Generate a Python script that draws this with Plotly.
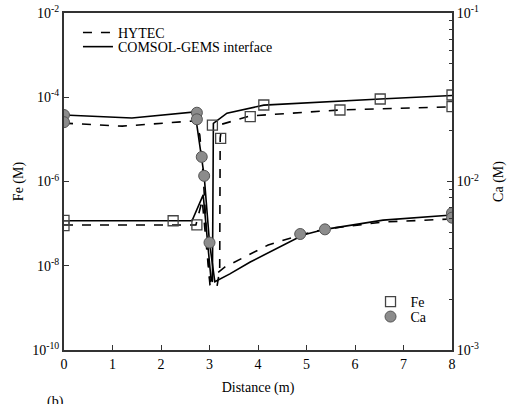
import plotly.graph_objects as go

# ---- Fe concentration (M), left axis ----
fe_comsol_x = [0, 2.64, 2.87, 3.03, 3.06, 3.08, 3.36, 4.12, 6.52, 8.0]
fe_comsol_y = [1.17e-7, 1.17e-7, 4.8e-7, 5.0e-9, 4.1e-9, 2.4e-5, 4.2e-5, 6.5e-5, 9.1e-5, 1.1e-4]

fe_hytec_x = [0, 2.72, 2.85, 3.01, 3.15, 3.21, 3.22, 3.26, 3.84, 5.69, 8.0]
fe_hytec_y = [9.3e-8, 9.3e-8, 3.6e-7, 3.5e-9, 3.0e-9, 7.9e-9, 1.08e-5, 2.3e-5, 3.6e-5, 5.0e-5, 5.9e-5]

# ---- Ca concentration (M), right axis ----
ca_comsol_x = [0, 1.40, 2.70, 2.84, 2.89, 3.00, 3.11, 3.42, 3.84, 4.93, 5.38, 6.58, 8.0]
ca_comsol_y = [0.0248, 0.0238, 0.0259, 0.0140, 0.0108, 0.00434, 0.00254, 0.00283,
               0.00333, 0.00481, 0.0052, 0.0059, 0.00633]

ca_hytec_x = [0, 1.20, 2.70, 2.80, 2.87, 2.95, 3.01, 3.11, 3.32, 4.21, 4.87, 5.38, 6.58, 8.0]
ca_hytec_y = [0.0222, 0.0213, 0.0229, 0.0189, 0.01094, 0.0042, 0.00254, 0.00279,
              0.00311, 0.0042, 0.00481, 0.00522, 0.00575, 0.00599]

# ---- measured points ----
fe_pts_x = [0, 0, 2.25, 2.74, 3.06, 3.23, 3.84, 4.12, 5.69, 6.52, 8.0, 8.0]
fe_pts_y = [1.19e-7, 9.0e-8, 1.17e-7, 9.3e-8, 2.19e-5, 1.06e-5, 3.47e-5, 6.55e-5,
            4.98e-5, 9.1e-5, 1.13e-4, 5.97e-5]

ca_pts_x = [0, 0, 2.74, 2.74, 2.84, 2.89, 3.00, 4.87, 5.38, 8.0, 8.0]
ca_pts_y = [0.0248, 0.0225, 0.0256, 0.0234, 0.0140, 0.0108, 0.00434, 0.00488,
            0.0052, 0.0065, 0.0061]

# ---- ticks ----
x_ticks = [0, 1, 2, 3, 4, 5, 6, 7, 8]
fe_ticks = [1e-10, 1e-8, 1e-6, 1e-4, 1e-2]
fe_tick_text = ["10<sup>-10</sup>", "10<sup>-8</sup>", "10<sup>-6</sup>",
                "10<sup>-4</sup>", "10<sup>-2</sup>"]
ca_ticks = [1e-3, 1e-2, 1e-1]
ca_tick_text = ["10<sup>-3</sup>", "10<sup>-2</sup>", "10<sup>-1</sup>"]
ca_minor = [m * d for d in (1e-3, 1e-2) for m in range(2, 10)]

FONT = "Liberation Serif"
AX = "#333333"

fig = go.Figure()

fig.add_trace(go.Scatter(x=fe_hytec_x, y=fe_hytec_y, mode="lines", name="HYTEC",
                         line=dict(color="black", width=1.6, dash="dash"),
                         legend="legend"))
fig.add_trace(go.Scatter(x=fe_comsol_x, y=fe_comsol_y, mode="lines",
                         name="COMSOL-GEMS interface",
                         line=dict(color="black", width=1.6),
                         legend="legend3"))
fig.add_trace(go.Scatter(x=ca_hytec_x, y=ca_hytec_y, mode="lines", yaxis="y2",
                         line=dict(color="black", width=1.6, dash="dash"),
                         showlegend=False))
fig.add_trace(go.Scatter(x=ca_comsol_x, y=ca_comsol_y, mode="lines", yaxis="y2",
                         line=dict(color="black", width=1.6), showlegend=False))

fig.add_trace(go.Scatter(x=fe_pts_x, y=fe_pts_y, mode="markers", name="Fe",
                         marker=dict(symbol="square-open", size=10, color="#444444",
                                     line=dict(width=1.3)),
                         legend="legend2"))
fig.add_trace(go.Scatter(x=ca_pts_x, y=ca_pts_y, mode="markers", name="Ca", yaxis="y2",
                         marker=dict(symbol="circle", size=11, color="#8c8c8c",
                                     line=dict(color="#555555", width=1)),
                         legend="legend4"))

fig.add_annotation(text="(b)", x=-0.023, y=-0.124, xref="paper", yref="paper",
                   xanchor="center", yanchor="top", showarrow=False,
                   font=dict(family=FONT, size=14, color="black"))

legend_style = dict(xanchor="left", yanchor="middle", bgcolor="rgba(0,0,0,0)",
                    font=dict(family=FONT, size=14, color="black"), itemwidth=30)

fig.update_layout(
    width=512, height=404,
    margin=dict(l=64, r=60, t=13, b=54, autoexpand=False),
    paper_bgcolor="white", plot_bgcolor="white",
    font=dict(family=FONT, size=13, color="black"),
    xaxis=dict(range=[0, 8], tickvals=x_ticks, ticks="inside", ticklen=5,
               tickcolor=AX, showline=True, linecolor=AX, linewidth=2,
               mirror=True, showgrid=False, zeroline=False, automargin=False,
               tickfont=dict(family=FONT, size=14),
               title=dict(text="Distance (m)", standoff=11,
                          font=dict(family=FONT, size=14))),
    yaxis=dict(type="log", range=[-10, -2], tickvals=fe_ticks, ticktext=fe_tick_text,
               ticks="inside", ticklen=5, tickcolor=AX, showline=True, linecolor=AX,
               linewidth=2, showgrid=False, zeroline=False, automargin=False,
               tickfont=dict(family=FONT, size=14),
               title=dict(text="Fe (M)", standoff=5, font=dict(family=FONT, size=14))),
    yaxis2=dict(type="log", range=[-3, -1], overlaying="y", side="right",
                tickvals=ca_ticks, ticktext=ca_tick_text, ticks="inside", ticklen=5,
                tickcolor=AX, showline=True, linecolor=AX, linewidth=2,
                showgrid=False, zeroline=False, automargin=False,
                tickfont=dict(family=FONT, size=14),
                minor=dict(tickvals=ca_minor, ticks="inside", ticklen=3, tickcolor=AX),
                title=dict(text="Ca (M)", standoff=15, font=dict(family=FONT, size=14))),
    legend=dict(x=0.036, y=0.941, **legend_style),
    legend3=dict(x=0.036, y=0.899, **legend_style),
    legend2=dict(x=0.79, y=0.1424, **legend_style),
    legend4=dict(x=0.79, y=0.098, **legend_style),
)

fig.write_html("out.html")
